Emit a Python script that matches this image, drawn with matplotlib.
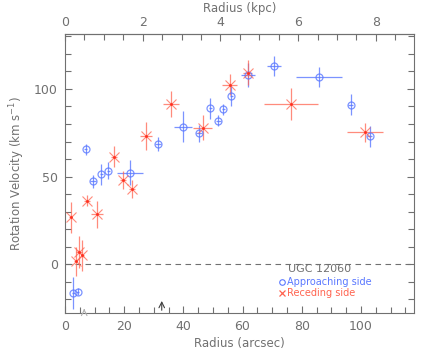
import matplotlib
matplotlib.use("Agg")
import matplotlib.pyplot as plt
from matplotlib.ticker import MultipleLocator, FixedLocator
import numpy as np

# Approaching side (blue circles)
app_r    = [2.8, 4.3, 7.1, 9.6, 12.3, 14.6, 22.0, 31.5, 39.8, 45.3, 49.1, 51.8, 53.5, 56.2, 61.9, 70.6, 85.9, 96.6, 102.9]
app_v    = [-16.4, -15.8, 65.5, 47.2, 51.4, 53.3, 52.2, 68.6, 78.5, 74.7, 89.1, 81.9, 88.4, 96.0, 108.0, 113.3, 106.7, 90.9, 73.0]
app_rerr = [0.5, 0.5, 0.5, 1.0, 0.5, 0.5, 4.3, 1.0, 3.0, 1.0, 0.5, 0.8, 0.5, 0.5, 2.4, 2.4, 7.8, 0.8, 1.0]
app_verr = [9.0, 2.0, 3.0, 3.5, 6.0, 5.0, 7.0, 4.0, 9.0, 5.0, 6.0, 3.0, 3.0, 5.5, 7.0, 5.7, 5.6, 6.0, 6.0]

# Receding side (red crosses)
rec_r    = [1.9, 3.6, 4.8, 5.9, 7.5, 10.9, 16.6, 19.7, 22.6, 27.5, 35.8, 46.6, 55.7, 61.7, 76.4, 101.4]
rec_v    = [26.7, 1.5, 6.9, 5.0, 36.2, 28.4, 61.3, 48.0, 43.0, 73.3, 91.4, 77.9, 102.3, 109.3, 91.4, 75.2]
rec_rerr = [0.5, 0.5, 1.0, 0.5, 1.0, 2.0, 1.0, 1.0, 1.0, 2.0, 2.7, 3.2, 2.5, 1.5, 9.0, 6.0]
rec_verr = [9.0, 8.5, 9.0, 9.0, 3.0, 7.6, 6.0, 5.0, 5.0, 8.0, 7.6, 7.0, 6.0, 7.0, 9.0, 5.4]

arrow_r = [6.5, 32.7]
kpc_ticks = [0, 2, 4, 6, 8]
ARCSEC_PER_KPC = 13.13

blue = '#5a78ff'
red = '#ff6450'
gray = '#707070'

fig = plt.figure(figsize=(4.36, 3.49), dpi=100)
ax = fig.add_axes([0.149, 0.103, 0.801, 0.800])

ax.axhline(0, color=gray, lw=0.8, ls=(0, (5, 4)))

ax.errorbar(app_r, app_v, xerr=app_rerr, yerr=app_verr, fmt='o', ms=5,
            mfc='none', mec=blue, mew=0.9, ecolor=blue, elinewidth=0.9,
            capsize=0, alpha=0.8, zorder=3)
ax.errorbar(rec_r, rec_v, xerr=rec_rerr, yerr=rec_verr, fmt='x', ms=6.5,
            mec=red, mew=0.8, ecolor=red, elinewidth=0.9, capsize=0,
            alpha=0.75, zorder=3)
ax.plot(rec_r, rec_v, '.', ms=2, color='#ff3020', zorder=4)

ax.set_xlim(0, 118)
ax.set_ylim(-28, 131.5)

for spine in ax.spines.values():
    spine.set_color(gray)
    spine.set_linewidth(0.8)

ax.xaxis.set_major_locator(MultipleLocator(20))
ax.xaxis.set_minor_locator(MultipleLocator(5))
ax.yaxis.set_major_locator(MultipleLocator(50))
ax.yaxis.set_minor_locator(MultipleLocator(10))
ax.tick_params(which='both', direction='in', colors=gray, labelsize=9,
               top=False, right=True, width=0.8)
ax.tick_params(which='major', length=5)
ax.tick_params(which='minor', length=4)
ax.tick_params(axis='both', labelcolor=gray, pad=5)

ax.set_xlabel('Radius (arcsec)', color=gray, fontsize=8.5, labelpad=3)
ax.set_ylabel('Rotation Velocity (km s$^{-1}$)', color=gray, fontsize=8.5, labelpad=5)

sec = ax.secondary_xaxis('top', functions=(lambda x: x / ARCSEC_PER_KPC,
                                           lambda k: k * ARCSEC_PER_KPC))
sec.xaxis.set_major_locator(FixedLocator(kpc_ticks))
sec.xaxis.set_minor_locator(FixedLocator(list(np.arange(0.5, 8.6, 0.5))))
sec.tick_params(which='both', direction='in', colors=gray, labelsize=9, width=0.8)
sec.tick_params(which='major', length=5)
sec.tick_params(which='minor', length=4)
sec.spines['top'].set_color(gray)
sec.set_xlabel('Radius (kpc)', color=gray, fontsize=8.5, labelpad=3)

# arrows
ax.annotate('', xy=(arrow_r[0], -24), xytext=(arrow_r[0], -28),
            arrowprops=dict(arrowstyle='->', color='#b0b0b0', lw=0.8))
ax.annotate('', xy=(arrow_r[1], -19.5), xytext=(arrow_r[1], -28),
            arrowprops=dict(arrowstyle='->', color='#404040', lw=0.8))

# legend text
ax.text(75.5, -2.8, 'UGC 12060', color=gray, fontsize=8, ha='left', va='center')
ax.plot([73.2], [-10.3], 'o', ms=4, mfc='none', mec=blue, mew=0.8)
ax.text(75.0, -10.3, 'Approaching side', color=blue, fontsize=7, ha='left', va='center')
ax.plot([73.2], [-16.3], 'x', ms=5, mec=red, mew=0.9)
ax.text(75.0, -16.3, 'Receding side', color=red, fontsize=7, ha='left', va='center')

fig.savefig('out.png', dpi=100)
